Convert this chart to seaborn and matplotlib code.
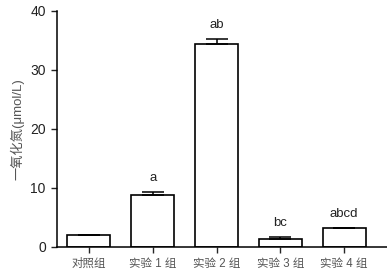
import matplotlib
matplotlib.use("Agg")
import matplotlib.pyplot as plt
import seaborn as sns
import pandas as pd

# groups and nitric oxide values (umol/L)
groups = ["对照组", "实验 1 组", "实验 2 组", "实验 3 组", "实验 4 组"]
values = [2.0, 8.8, 34.4, 1.3, 3.2]
errors = [0.0, 0.5, 0.8, 0.35, 0.08]
letters = ["", "a", "ab", "bc", "abcd"]

sns.set_style("ticks")
plt.rcParams["font.family"] = ["Liberation Sans", "Noto Sans CJK SC"]

df = pd.DataFrame({"group": groups, "no": values})

fig = plt.figure(figsize=(3.87, 2.72), dpi=100)
ax = fig.add_axes([0.147, 0.092, 0.853, 0.868])

sns.barplot(data=df, x="group", y="no", color="white", edgecolor="black",
            linewidth=1.2, width=0.67, errorbar=None, ax=ax)

# upper error bars only
ax.errorbar(range(len(groups)), values, yerr=[[0] * len(errors), errors],
            fmt="none", ecolor="black", elinewidth=1.1, capsize=8,
            capthick=1.1)

# significance letters
for i, (v, e, lab) in enumerate(zip(values, errors, letters)):
    if lab:
        ax.annotate(lab, (i, v + e), xytext=(0, 14), textcoords="offset pixels",
                    ha="center", va="center", fontsize=9.5, color="#222222")

ax.set_ylim(0, 40)
ax.set_xlim(-0.5, 4.67)
ax.set_yticks([0, 10, 20, 30, 40])
ax.set_xlabel("")
ax.set_ylabel("一氧化氮(μmol/L)", fontsize=9.5, color="#555555", labelpad=4)
ax.tick_params(axis="y", labelsize=10, colors="#222222", length=4.5, width=1)
ax.tick_params(axis="x", labelsize=8.3, labelcolor="#555555", length=4.5, width=1)
for s in ["left", "bottom"]:
    ax.spines[s].set_linewidth(1.1)
    ax.spines[s].set_color("black")
sns.despine(ax=ax)

fig.savefig("out.png", dpi=100)
